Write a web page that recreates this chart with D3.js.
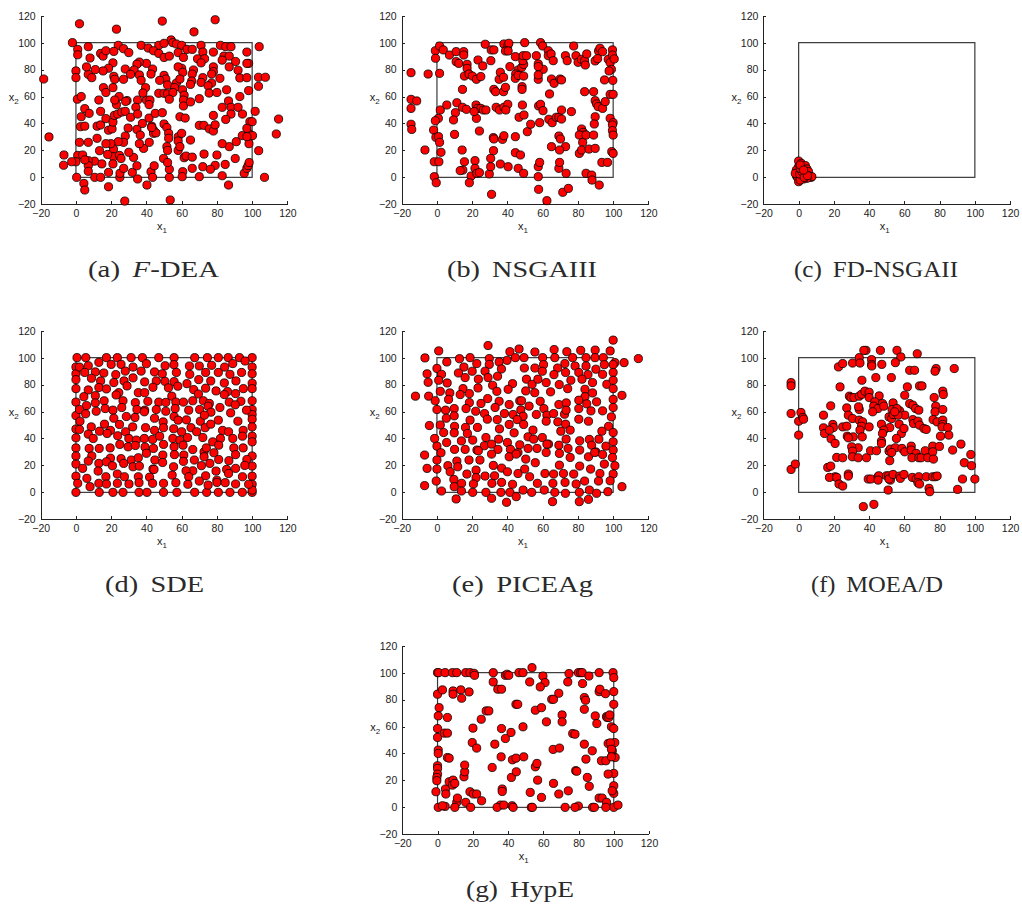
<!DOCTYPE html>
<html>
<head>
<meta charset="utf-8">
<script src="https://cdn.jsdelivr.net/npm/d3@7"></script>
<style>
  html, body { margin: 0; padding: 0; background: #fff; }
  svg { display: block; }
  .tick text { font-family: "Liberation Sans", Arial, sans-serif; font-size: 10.5px; fill: #222; }
  .axis path, .axis line { stroke: #222; stroke-width: 1; shape-rendering: crispEdges; }
  .lbl { font-family: "Liberation Sans", Arial, sans-serif; font-size: 11px; fill: #222; }
  .cap { font-family: "Liberation Serif", "Times New Roman", serif; font-size: 23px; fill: #2a2a2a; }
</style>
</head>
<body>
<svg id="fig" width="1022" height="916"></svg>
<script>
// Axis ticks shared by every panel
const xTicks = [-20, 0, 20, 40, 60, 80, 100, 120];
const yTicks = [-20, 0, 20, 40, 60, 80, 100, 120];

// Final populations [x1, x2] for each algorithm
const fdeaPoints = [
[2,114],[23,110],[49,116],[79,117],[67,108],[54,102],[55,100],[-2,100],[1,95],[7,97],[24,98],[27,95.5],[30,92.6],[37,98],[41,96],[47,98],[50,99.5],[57,99],[60,98],[63,95],[66,95],[71,98],[72,93],[82,98],[85,97],[88,97],[78,93],[97,93],[104,97],
[1,91],[8,88.6],[14,92],[15.4,90],[17,94],[21.5,93.5],[44,94],[47,92],[50,89],[53,90],[58,92.6],[61,89],[69,88],[73,88],[84,90],[87,90],[98,84.6],
[83,87],[90.6,86],[97,84.6],[92,79.5],[87,82],[78,82],[78,78.5],[71,85],[66.7,79.7],[66,76.7],[60,81],[58,82],[60.6,78],[43.5,80.4],[40,84.6],[36,85.6],[34.6,84],[33,79.7],[28,80.4],[21,85],[18.5,81],[15.4,79],[11,80],[7,76.5],[9,74],[0,79],[0,74],[6,82],[21.5,75],[22,72.8],[27,72.8],[31,76.5],[36,76],[37,72],[39.5,66.6],[42.6,76.7],[50,75.7],[51,73],[47.5,72],[57,70],[59,73],[65.7,71.5],[72,74],[77,70],[81.7,73.5],[77,76.7],[93,73.8],[97,74],[103.6,74.3],[107.5,74.3],[-18.3,73],
[15.6,66.6],[21,66.6],[17,63],[13,57.4],[24.5,60],[29,57],[23,54],[22,57.4],[35,57.4],[40,57.4],[42,57.4],[41.5,54],[38,62.6],[47,62.4],[50,62.4],[52,62],[52,68.6],[56,66.6],[55,63],[53,58],[60.5,65],[61.4,61],[61,57.4],[61,53],[65,56],[65,69],[71,70.5],[75,68],[75.6,62.6],[80,63],[85.5,65],[98,64.4],[103.6,67.6],[93,60],[86.6,56.7],[88,52],[83,52],[92,52],[94.5,47],[101.7,49],[98.7,41.3],[88,47],[85,43],[78,46],[70,38.6],[72.6,38.6],[75.7,36],[78,34.4],[79,39],[70,58.4],[0.8,58],[3,60],[5,51],[7.5,47.5],[3,45],[2.6,37.6],[5,38],[2,26],[7,26],[12,38],[14,38.9],[14,49],[17,43.6],[18.5,35],[20.5,36],[21,41],[21.8,46],[23.7,47],[26,48.5],[28.2,56.4],[28,49],[31,44.6],[29.6,36.6],[34,52],[35,47],[34.6,35.6],[37.7,40],[41.5,44],[43,38],[44,35],[45,47.5],[49,48],
[50,39.6],[51.6,37],[52.6,32.7],[52.6,29],[51.6,22.8],[52,20],[58,30],[58,27],[58,20],[59,22.8],[60,32.7],[65,27.7],[59,45],[62,44],[38.4,21.5],[41.6,26],[44,32.7],[45.4,33],[43,37],[36.5,31.4],[36,25],[28,30.7],[27,26],[24,26.5],[21.3,21],[19.8,25],[21.3,15.3],[24.7,16.3],[25.6,14],[18,17],[13.4,19.8],[12,29],[17,25],[21,10],[14.7,10],[10.5,12],[7,12.4],[7,8.7],[7,4.5],[1,16.3],[3.8,16.6],[0,11.6],[-2.4,11.6],[-6.8,16.6],[-7,9],[-15.3,30],[5,13],[4.5,-4.5],[5,-9.4],[0.4,0],[10.7,0],[14,0],[18.5,3.7],[18.5,-7],[24.9,0],[25,3],[27.1,6.7],[32,3.7],[35,-1.2],[34.6,8.6],[32.7,14.8],[30,18.6],[27.7,-17.6],[40.3,-5.7],[42.6,4.2],[44.4,8.6],[43.5,0],[53,0],[53,6],[53.5,-16.8],[49.7,14],[52,11],[60.6,4.2],[60.3,0.5],[61.4,14.6],[62.5,15.8],[66,15],[66,6.7],[72.7,17.3],[72,7.9],[70,0.5],[80,16.6],[79,8.9],[83,1.2],[76.3,6],[84.7,9.6],[86.6,-5.7],[87,22.8],[83,25],[90.4,14],[91,26.5],[94.4,31],[98,32.7],[100.2,31],[98.2,25],[95.5,3],[97,6.7],[97.7,8.7],[98.3,11],[103.7,19.8],[107,0],[113.7,32.2],[115,43.3],[97,36.4],[100,41.3],[97,30.2]
];

const nsga3Points = [
[-14.7,77.7],[-5,76.7],[-14.7,57.9],[-11.5,56.7],[-14.7,51.2],[-14.7,39.4],[-14.3,35.6],[-6.8,20.3],
[-0.9,94],[-0.8,88.4],[1.5,97.5],[3.6,94.6],[1.5,77.2],[1.9,50],[0.8,43.8],[-0.9,42],[-1.9,35.1],[-0.6,29.7],[0.9,30.2],[1.5,26],[2.3,18.6],[-1.5,11.6],[1.1,11.6],[-1.5,0.5],[-0.4,-4],
[7.1,90.8],[10.9,93.3],[10.9,85.9],[12.4,84.6],[15.2,93.3],[15.2,90.8],[17.1,83.9],[17.1,80.9],[23.3,87.1],[26,82.7],[27.4,98.8],[30.8,94.6],[32.3,94.6],[30.6,86.6],[38,99],[40.2,97.8],[40.8,99.5],[38.9,93.8],[40.4,93.8],[41.4,82.2],[44.5,89.6],[46.1,79.7],[48.1,81.7],[49.2,83.9],[48.7,86.6],[48.9,90.3],[50.8,90.3],[49.8,100],[56.4,90.3],[58.8,100],[60,97.5],[63.2,94],[63.2,90.3],[64.8,91.6],[66,86.6],[57.5,84.2],[58.6,80.4],[60.3,80.2],[57.5,82.2],[72.9,90.3],[73.9,86.6],[77.6,97.5],[78.9,90.3],[80.1,85.4],[82,87.6],[83.8,86.6],[84.2,83.4],[85,91.6],[91.7,93.8],[92.5,95.8],[94,93.3],[89.8,86.4],[91.2,88.1],[97.2,87.6],[98.3,85.1],[99.6,94.6],[99.6,90.8],[100.6,87.9],[99,80.2],[97.7,79],
[15.6,75.2],[18.2,76.7],[20.1,75.2],[22.4,72.8],[24.9,74.8],[35.3,72.8],[36,78],[37.8,74.3],[44.7,76.7],[44.5,73.5],[46.1,75.7],[49.2,75.2],[57.5,72.8],[57.5,76],[65,73],[66.5,69.8],[69.9,73],[70.7,72.3],[99.8,72],[95.1,72.3],[14.5,65.3],[32.3,65.3],[33.3,63.6],[37.8,63.6],[38.9,66.8],[48.3,67.3],[48.3,65.3],[63.9,61.9],[83.8,63.6],[88.9,63.6],[98.3,61.6],[100,61.6],
[5.6,53.7],[11.3,55.4],[10.5,48],[14.5,52],[16.7,50.5],[22.2,53.7],[23.1,51.2],[24.9,51.2],[26.3,50],[27.8,50],[22.4,43.8],[21.1,48.8],[9.4,42.6],[33.6,52],[35.5,50],[38,52],[40.2,54.2],[39.1,50],[48.5,53.7],[46.6,44.6],[49.4,46.3],[57.7,53],[58.8,54.2],[60.2,49.5],[63.5,43.1],[65.4,40.6],[67.7,44.6],[69.2,44.6],[70.7,43.3],[76.3,48.8],[70.7,50],[58.3,40.6],[89.8,56.9],[90.6,54.5],[91.5,52.5],[94,51.2],[95.5,56.2],[89.8,45],[89.3,39.6],[98.3,43.8],[100,40.6],[99.6,38.9],
[10,31.9],[14.3,20.3],[24.1,34.4],[32,29.5],[32.3,28.5],[37.2,28.2],[38,30.9],[44.5,30.2],[51.3,33.9],[53.2,39.4],[69.2,30.7],[70.1,28.5],[65,22.8],[73,22.8],[69.6,20.3],[82.1,35.9],[83,33.4],[83.6,31.4],[80.8,31.4],[82.7,26],[84.6,31.4],[88.9,31.4],[80.8,17.8],[82.1,20.3],[86.3,21],[89.8,21.5],[99.6,34.7],[100,31.4],[99.2,19.1],[100,17.8],
[15.6,11.6],[21.6,12.4],[21.6,6.7],[14.7,5.4],[13.2,5],[19.4,1],[22.6,3],[24.1,3.5],[29.7,2.5],[30.5,7.9],[30.5,14.1],[32.1,19.8],[36,9.9],[40.4,7.9],[44.5,18.3],[47.4,16.6],[46.1,6.7],[49.2,3],[57.5,7.9],[58.3,11.1],[57.5,0.5],[69.2,6.7],[69.6,11.1],[73.3,3],[93.6,11.1],[96.8,11.1],[84.6,3],[87.8,1.7],[88,-2],
[18.4,-4],[31,-12.6],[57.7,-8.9],[62.4,-17.3],[71.4,-11.1],[74.6,-8.2],[92.1,-5.7]
];

const fdnsga2Points = [
[0,12.1],[0,7.9],[0,4.2],[-1.3,1.2],[-0.6,0],[0,-3.2],[1.5,10.4],[2.4,7.9],[3.2,5.4],[2.8,3],[1.9,0.5],[3.8,8.7],[4.7,6.2],[4.3,3],[5.6,4.2],[6,1],[7,0],[7.5,0.5],[4.7,-0.7],[2.8,-1.2],[0.9,-2],[-1.3,5.4],[-1.9,3],[0.6,2.5],[1.9,4.2],[0.9,6.7],[3.2,0],[5,1.3],[0.9,9.2],[2.8,5.4]
];

const sdePoints = [
[0.6,100],[5.6,100],[17.3,100],[23.5,100],[31.3,100],[37.7,100],[47,100],[55.7,100],[67.4,100],[74.6,100],[80.8,100],[86.4,100],[92.8,100],[100,100],
[0,0],[13.2,0],[21,0],[26.7,0],[35.8,0],[40.3,0],[49.7,0],[57.3,0],[67.4,0],[74.2,0],[80.8,0],[87.4,0],[94.4,0],[100,0],
[0,93],[0,88],[0,83.7],[0,77],[0,67],[0,57],[0,47],[0,40.5],[0,33],[0,27],[0,21],[0,12],
[100,93],[100,88],[100,81],[100,77],[100,68],[100,61.5],[100,57.8],[100,54.3],[100,48.6],[100,41.7],[100,37.5],[100,27],[100,19.5],[100,12],[100,6],[100,1.7],
[2,93],[7,94],[13,96.5],[20,95],[25.6,95],[32.4,93],[40,95.5],[50.6,94],[55.6,94.8],[64.4,93.8],[70,93.8],[77,94.3],[84.4,93],[89,95.6],[96,97.5],
[5,89],[11,89.4],[15.8,88.6],[22.6,87.4],[28,90],[37,90],[44.6,89.4],[49,88],[57,89],[64.6,87.6],[73.6,89],[80.8,89],[87.4,87.6],[94,89],
[8.8,84.7],[14,82.7],[21.5,81.5],[27.3,82.7],[32.4,85],[39,82],[45.6,82.7],[50.5,82.4],[55.7,82.2],[63,80.7],[69.7,83.7],[76.5,82.7],[84.2,81.2],[90.8,82.7],
[7,76],[13,77.8],[17.3,76.8],[24.3,74],[29,79],[35.4,74],[39,74],[43.7,78],[52.5,77.6],[57.8,78.8],[66.8,76.3],[73.6,77.3],[79.5,75.3],[86,74.8],[90.6,73.3],[95,77],
[4.5,71],[11,71.8],[16,68],[22.8,72.3],[26.7,68],[33.7,66.6],[40.8,67.6],[47,67],[51,66.8],[54.4,71.4],[56.7,67],[61,67],[66.3,68],[69.5,73],[72.3,68],[75.7,66],[84.2,72.6],[87,67],[93.6,67.6],
[6,64.4],[11,66.4],[16.6,62.2],[21,61],[26,63],[34.6,61.5],[39,61],[45.6,61.5],[51,60.2],[56.3,62.2],[64,61],[70.2,61.5],[75,64],[76.6,59.5],[81.7,63],[90.4,65],[96.8,61],
[2,61.5],[2.3,52.8],[5.5,58.3],[11.5,60.2],[21.5,55],[28.6,56.3],[33.5,55.6],[38.8,59.8],[44.6,55],[49.5,52.3],[49.7,48],[55.7,56.3],[58,53.6],[62.7,53.8],[70.6,52.8],[72.9,57.3],[80.8,53.6],[87.8,59],[91.9,52.8],
[8.7,48.6],[16.2,50.6],[19.6,46],[24.7,50.4],[28.2,45],[32.2,48.6],[39.5,48],[44.6,46],[55.5,47.2],[60,45],[65.3,48],[73.3,48],[76.5,50.6],[83.2,46],[86.6,45],[94.9,46],
[2,46.7],[7,43.2],[9.8,40],[13.4,45.4],[17.7,43.7],[23.7,42],[24.9,35.6],[30,40],[34.3,38.8],[38.8,40],[43.5,39.3],[47.5,41.7],[55,40],[59,38.8],[63.3,40.7],[68.5,45],[72,40.7],[77.6,37.5],[82,40],[89,40],[94.5,41.7],
[7.5,32.6],[13.2,32.6],[19.4,33],[29.6,33.8],[33.7,34.8],[39.2,33.6],[40,29],[44,32.6],[49.7,35.6],[55.7,33.8],[60.8,35],[66.3,31.8],[72.7,30],[74,33],[78.3,29.4],[81,35],[89.6,33],[94.9,33],
[9,27],[13,21.5],[19.6,25.4],[25.6,25],[31.4,24],[35.4,25.7],[44.8,24],[49.3,27.7],[55.9,28],[61.2,27.7],[67.2,24],[72.7,26.4],[81,24.4],[86.8,23.5],[90.6,28],[97,24.4],
[3.8,17.8],[7,23.2],[17.3,22.7],[20.7,19.7],[27.1,21.5],[32.4,19],[36,19.5],[43.7,17.3],[49.2,22.2],[55.4,19],[61,23],[66.3,16],[71.2,19.8],[76,21.5],[79.5,15.8],[85.5,17],[90.6,17.8],[95.8,20],
[6.2,10.4],[12.6,15.8],[17,11.6],[23.5,13.6],[27.5,11.6],[35.4,11.6],[41.8,11.3],[44.3,17],[54.6,12.8],[62.5,16],[64,11.6],[73.6,12.3],[80,9],[86.6,14],[94.5,11.6],
[1,6.7],[8,4.2],[13,6.7],[17.3,6.2],[23.5,6.7],[30.1,6.2],[35.8,7.2],[43.5,6.7],[49.7,6.7],[56.7,7.2],[63.5,6],[70,8.4],[75,5.4],[80,7.4],[84.7,7.2],[90.6,6.2],[98,6]
];

const piceagPoints = [
[-12.2,71.4],[114.3,99.3],[100,113],[101,96.3],[106.2,96.3],[98.3,105],[105,72],[105,4.2],[-6.8,99.8],[-5.6,88],[-5,81.7],[-4.7,71.4],[-4.3,49.6],[-7,27.7],[-5.6,17.8],[-7,5],[1,105],[29,109],[41.4,104.4],[46.6,106.4],[55.6,104.2],[66.5,106],[73.7,104.4],[81.6,105.4],[89.8,105.6],
[12.8,99.2],[18.8,100],[29.7,99.3],[39.8,98],[44.5,100],[49.4,100],[60,100],[66.9,100],[77,100],[84.6,100],[89.7,100],[94.4,100],
[5.6,96.8],[22.6,95.6],[29.7,95],[35.3,96.8],[60.5,94.8],[72.6,95.6],[84.6,93.8],[95,94.8],[100,94.8],[15.3,93],[0,92],[49.6,92.3],[55.6,92.3],[68.5,92.3],[78.4,93.8],[90.2,91.4],
[2.6,87.6],[12.2,88.6],[20,89.9],[27.3,89.9],[34.4,86.2],[36.6,91.6],[59.8,89.9],[66.4,87.4],[73,89],[80.5,89],[85.7,87.4],[94,87.6],[100,89],
[5.8,81.2],[16,85.2],[23.5,84],[29,85.2],[31.6,79.5],[42.9,80.7],[50.8,84],[54,80.2],[57.3,84],[62,81.5],[69.4,80],[76,83.2],[82.3,84],[88.3,81.5],[96.4,80.2],[100,83.2],[1,83.2],
[1.9,75],[7.3,73.8],[14.8,77],[18.4,73.3],[23.3,77.5],[34,75],[40.4,76.5],[50.4,75.3],[55.5,74],[64.5,74.6],[74.2,77],[84,76.5],[88.3,73.8],[100,77],[13.2,72.6],[84,71],[47,68],
[-1,68],[6.6,69],[18.4,66.6],[25,66],[28.8,69.6],[35.3,67.6],[41,65.2],[48,68],[52.3,64],[58.6,67.6],[69.2,65.2],[73.4,66.4],[80.5,68.4],[85,65.7],[90.6,67.2],[100,69],[100,63],
[0,61.5],[4.9,61],[9.8,62.2],[16.5,62.2],[22,60.2],[27,58.5],[33,63],[38.3,58.5],[43.2,57.8],[47.6,61.2],[48.9,56.5],[56.4,57.8],[60.7,62.2],[62.4,57.3],[66.2,58.5],[72.4,58],[73.3,61],[80.5,62.2],[87.4,60.5],[94,60.5],[99,56],
[5.3,55],[9.8,56.8],[18.8,53.6],[28.6,54.3],[34.2,54],[45.5,54],[49.2,50.4],[54.5,46.2],[62,52.8],[68.6,52.3],[73,50.6],[75.6,46.2],[70.3,45.4],[80.5,54.3],[86,52.8],[97.4,49],[93.6,45.4],[1.9,50],[10,49],[16.2,48.2],[17.3,43.7],[23,48.2],[35.5,47.1],[41,50.4],
[-1.3,40],[3.8,44.4],[9.8,44.2],[13.9,38.2],[20.3,38.8],[27.8,40.7],[35,39.5],[40,37],[43.8,44.2],[51.7,41.2],[54.9,39.5],[59.8,40.7],[63.3,35.8],[73.3,39.5],[81,38.3],[86.5,39.3],[91.9,39.5],[100,44.4],[100,37.5],
[0,34.3],[5.5,37],[10,31.9],[16,31.9],[22.7,31.4],[26.9,34.6],[31,35.8],[34.6,31.9],[41.7,31.9],[46,29.6],[47,35.3],[51.7,32.6],[56.8,32.6],[62.4,35.8],[69.2,35],[74.4,32.6],[81,31.4],[87.8,35],[90.2,30],[95.9,34.3],[100,31.4],
[2.3,29.4],[6.2,19.8],[11.3,23.2],[18.2,24],[23.5,30.9],[24.4,24],[31,28.4],[32,20],[36.7,18],[41,26.4],[45,28.4],[50.4,24.7],[55.8,22],[62,29.6],[69.5,28.9],[69.5,20.2],[75.6,25.9],[81,19.5],[86,26.4],[89.5,29.6],[94,28.1],[95,21],[99.6,25.9],[101,19.8],[0,24],[0,17.3],
[7.5,15.3],[11.8,19],[17,13.6],[22.2,16.5],[27.3,12.1],[32.7,12.3],[40,15.3],[46,14],[49.8,17.3],[52.6,11.6],[61.3,14],[66.2,13.6],[71.8,14],[77.6,13.6],[87.2,17.3],[92.5,14],[100,13.6],[9.6,9.6],[22.2,10.9],
[-0.4,8.4],[9.8,4.2],[14,6.7],[20.7,6.2],[31.2,6.7],[36.7,7.4],[42.9,6],[48.9,1.7],[57,6.7],[65.8,6.7],[72.7,7.4],[79,6.2],[83.8,8.4],[91.7,8.4],[98.3,8.6],
[2.6,1],[13.9,1],[20.3,0],[27.8,0],[36.3,0],[41.4,0],[53.8,0],[60.9,1.7],[66.9,0],[72.9,-0.7],[80.8,0],[86.5,1.7],[90.6,-0.7],[97,0.5],
[10.9,-4.9],[31,-4.4],[39.5,-7.4],[45,-3.2],[65.6,-6.9],[80.8,-6.9],[86,-5.2]
];

const moeadPoints = [
[-4.3,81.5],[-4.3,79],[-4.3,58.5],[-4.3,17],[-1.9,21],[0,42.5],[0,52.8],[1.3,59.3],[2.4,55.6],[2.8,54.3],
[22.6,93.1],[25,95.6],[30.6,96],[34.4,100],[38.2,105.4],[37,105.4],[34.8,96],[41.4,98.5],[41.4,95],[41.5,93.8],[47.2,95],[46.4,105.4],[55.8,105.4],[58,100.5],[54.9,96.3],[67.3,102.9],[63,90.6],[65.8,90.6],[52.6,85.2],[43.8,85.2],[35.9,83.2],[78,91.9],[77.4,89.9],[88.3,91.9],
[23.5,78.3],[28.8,71.4],[29.7,70.4],[31.4,70.4],[34.4,71.4],[35.7,72.8],[37.6,75.1],[40,74.3],[40,70.4],[45.7,71.6],[61.7,78.3],[60.2,72.1],[68.6,79],[70,79],[76.9,70.4],[81.8,75.1],[82.1,72.6],[43.2,67.2],[47.6,65.9],[42.6,64],[45,62.2],[48.3,64],[42,59.8],[53.6,66.4],[53,61.5],[57.3,60.5],[60.2,57.3],[63,65.9],[64.8,64.7],[66.4,62.2],[68.2,61],[77.8,64],[77.4,59.8],[81.8,61.5],[27.3,62.7],[34.4,61.5],[34,63.5],[18.2,64.2],
[14.1,57.3],[14.1,47.9],[14.7,43.7],[19.4,50.4],[19.7,48.1],[17.5,46.2],[18.4,39.8],[20.7,36.3],[25,48.6],[27.3,49.1],[28.2,57.3],[30.6,54.8],[31,41.2],[27.6,41.7],[28.2,40.5],[34.4,53.6],[36.3,52.3],[35.7,49.1],[34.8,46.2],[36.1,41.2],[40,48.6],[47,50.6],[51.3,56],[52.8,54.8],[53.6,57.8],[56.4,57.3],[55.8,62.2],[54.5,59.8],[51.7,48.1],[48.3,46.2],[47.6,43.7],[57,50.6],[58.3,43.7],[59.8,47.4],[64.8,54],[65.2,51.1],[67.7,52.8],[68.6,49.9],[71.1,47.4],[72.4,46.7],[76.3,54],[78.6,52.3],[81.8,53.6],[81.8,50.4],[81.4,48.6],[80.5,41.7],[84.6,48.1],[85.2,42.5],[55.5,40],
[33.8,33.1],[30.1,33.8],[30.6,30.6],[30.5,26.4],[33.8,25.7],[38.5,25.7],[21.6,25.9],[25,25.7],[40.8,30.9],[44.2,30.9],[47,38],[47,36.3],[51.3,30.6],[52.1,32.1],[54.9,33.1],[52.8,29.6],[58.6,32.6],[60.2,30.1],[63.9,34.3],[63.9,31.4],[66.7,28.9],[64.3,25.7],[68.2,25.7],[69.5,25.7],[71.8,30.9],[73.3,25.7],[76.1,34.3],[76.1,30.1],[76.5,24.7],[79.9,34.1],[87.4,31.4],[92.1,35.8],[94,22],[97.7,28.1],[98.1,19.8],[51.7,23.5],[16.5,18.5],[18.2,19.5],[20.7,11.6],
[17.5,11.1],[21.6,11.1],[22.9,6.2],[25,4.7],[28.2,13.6],[28.2,12.1],[39.5,9.9],[41,9.9],[45.1,11.6],[45.5,12.3],[45.1,9.1],[49.8,12.3],[51.1,12.3],[52.1,9.1],[51.3,9.9],[53.6,13.3],[57.3,12.1],[57.7,10.4],[59.8,13.3],[64.5,11.1],[66.7,9.9],[68.2,11.6],[67.7,7.2],[68.6,6.2],[72.4,11.6],[76.1,11.6],[77.6,11.6],[78.6,12.1],[74,3],[74.4,0.5],[50.8,1.7],[90.2,2.2],[93,9.9],[100,9.9],
[36.7,-10.6],[42.7,-8.9]
];

const hypePoints = [
[0,100],[0.6,100],[4.3,100],[8.5,100],[10.9,100],[16,100],[18.4,100],[20.7,99.5],[31.6,100],[46.2,100],[48.5,100],[59.8,97.5],[74.6,99.3],[79.9,100],[81.2,100],[82.1,100],[85.9,97.5],[91.7,100],[99.6,100],[21,98],[38.5,98],[39.5,98.8],[40.4,98],[53.6,103.7],
[0,84],[0.9,74],[0.4,67.9],[0,58.5],[0,51.9],[0.4,42.5],[0.4,40],[0,30.9],[0,28.9],[0,24.7],[-0.4,22.2],[-0.4,19.8],[-0.9,11.6],[0.4,0],
[100,96.3],[100,85.9],[100,76.5],[98.7,59.8],[100,58.5],[100.6,48.1],[99.2,42],[99.2,38.3],[100.8,37],[100,25.2],[100,16],[100,10.4],[100,0],[102.4,1.7],
[2.8,87.2],[8.8,86.4],[8.8,84],[13.2,87.2],[13.7,81],[17.9,85.7],[5.6,66.7],[3.8,55.1],[5.6,55.1],[5.6,37],[6.6,36.5],[4.5,13.6],[4.7,9.9],[4.3,0.7],[2.8,1.2],[6.6,19],[8.8,20.2],[8.5,16.5],[9.8,17.8],[10.9,3.7],[11.3,6.9],[9.8,0],[15,22.7],[15.4,26.4],[15.4,31.4],[16,3.7],[18.8,0],[18.4,11.6],[20.3,9.9],[22.2,9.9],[25,4.9],[20.1,58.8],[19.7,48.1],[22.2,44],[24.8,65.4],[27.6,71.6],[29.1,71.6],[31.6,93.1],[31,29.6],[32.5,46.9],[34.2,87.7],[36.3,87.7],[36.3,58.5],[36.1,37.5],[36.7,13.6],[36.7,11.8],[35.7,1.7],[33.8,0],[37.6,1.7],[38.5,51.1],[41.7,55.6],[41.9,22.2],[42.5,35.3],[42.3,1.2],[42.9,0],[44.5,76.5],[45.5,76.5],[44.5,36.5],[44.7,26.4],[48.5,59.8],[48.9,37.5],[52.3,93.1],[52.6,11.1],[53.2,0],[53.8,0],[55.5,72.1],[55.5,30.1],[56.4,32.6],[56.8,20.2],[59,74],[59,7.4],[61,92.6],[58.3,89.4],[61.8,63.5],[64.8,80.2],[65.8,80.2],[65.6,43],[65.8,17.8],[68.8,84.7],[69.2,44],[68.8,9.9],[70.7,68.6],[70.7,63.5],[72.4,0],[73.9,93.1],[74.2,12.3],[76.7,54.8],[78,54.3],[78.4,27.2],[79,26.8],[79.9,1],[78,0],[82.3,91.9],[83.3,81.5],[84,79.5],[83.3,72.8],[83.3,46.9],[84.2,35.8],[85,22.2],[86.1,15.6],[87.8,42],[88,0],[89,0],[89.5,67.9],[90.4,62.2],[91.7,85.9],[92.1,87.7],[91.7,6.9],[93.4,6.9],[93,34.6],[95.5,34.6],[95.3,84.4],[95.9,67.4],[96.2,66.7],[97.2,66.7],[97.7,68.6],[95.9,3.7],[95.5,0],[96.8,24.7],[96.8,47.4],[98.1,47.9],[98.7,43.2],[98.7,37.5],[99.1,12.3]
];

// Panel captions: tag, optional italic leading letter, remainder of the name
const captions = [
  { tag: "(a)", lead: "F", rest: "-DEA" },
  { tag: "(b)", lead: "", rest: "NSGAIII" },
  { tag: "(c)", lead: "", rest: "FD-NSGAII" },
  { tag: "(d)", lead: "", rest: "SDE" },
  { tag: "(e)", lead: "", rest: "PICEAg" },
  { tag: "(f)", lead: "", rest: "MOEA/D" },
  { tag: "(g)", lead: "", rest: "HypE" }
];

const panelData = [fdeaPoints, nsga3Points, fdnsga2Points, sdePoints, piceagPoints, moeadPoints, hypePoints];

// Layout of the 3-row grid (axes origin, caption centre / baseline / width)
const axW = 246.7, axH = 188.6;
const panelPos = [
  { left: 40.7,  top: 15.7,  capX: 153.5, capY: 276.7, capW: 131 },
  { left: 401.7, top: 15.7,  capX: 522,   capY: 276.7, capW: 150 },
  { left: 763.4, top: 15.7,  capX: 876,   capY: 276.7, capW: 164 },
  { left: 40.7,  top: 330.7, capX: 154.5, capY: 591.7, capW: 99 },
  { left: 401.7, top: 330.7, capX: 522.5, capY: 591.7, capW: 141 },
  { left: 763.4, top: 330.7, capX: 877,   capY: 591.7, capW: 132 },
  { left: 402.3, top: 645.7, capX: 520,   capY: 896.7, capW: 108 }
];

const fmt = v => (v < 0 ? "\u2212" + Math.abs(v) : String(v));
const svg = d3.select("#fig");

panelData.forEach((pts, i) => {
  const pos = panelPos[i];
  const x = d3.scaleLinear().domain([-20, 120]).range([0, axW]);
  const y = d3.scaleLinear().domain([-20, 120]).range([axH, 0]);
  const g = svg.append("g").attr("transform", `translate(${pos.left},${pos.top})`);

  // feasible region box [0,100] x [0,100]
  g.append("rect")
    .attr("x", x(0)).attr("y", y(100))
    .attr("width", x(100) - x(0)).attr("height", y(0) - y(100))
    .attr("fill", "none").attr("stroke", "#3a3a3a").attr("stroke-width", 1.2);

  g.append("g").attr("class", "axis")
    .attr("transform", `translate(0,${axH})`)
    .call(d3.axisBottom(x).tickValues(xTicks).tickFormat(fmt).tickSizeInner(-3).tickSizeOuter(0).tickPadding(5));
  g.append("g").attr("class", "axis")
    .call(d3.axisLeft(y).tickValues(yTicks).tickFormat(fmt).tickSizeInner(-3).tickSizeOuter(0).tickPadding(5));

  // population
  g.append("g").selectAll("circle").data(pts).join("circle")
    .attr("cx", d => x(d[0])).attr("cy", d => y(d[1]))
    .attr("r", 4.1)
    .attr("fill", "#ff0000").attr("stroke", "#000").attr("stroke-width", 0.8);

  // axis labels x1, x2
  const xl = g.append("text").attr("class", "lbl")
    .attr("x", axW / 2 - 2).attr("y", axH + 26).attr("text-anchor", "middle");
  xl.append("tspan").text("x");
  xl.append("tspan").attr("dy", 3).attr("font-size", "8px").text("1");
  const yl = g.append("text").attr("class", "lbl")
    .attr("x", -32).attr("y", 85);
  yl.append("tspan").text("x");
  yl.append("tspan").attr("dy", 3).attr("font-size", "8px").text("2");

  // caption
  const c = captions[i];
  const t = svg.append("text").attr("class", "cap")
    .attr("x", pos.capX).attr("y", pos.capY).attr("text-anchor", "middle")
    .attr("textLength", pos.capW).attr("lengthAdjust", "spacingAndGlyphs");
  t.append("tspan").text(c.tag);
  if (c.lead) {
    t.append("tspan").attr("dx", 10).attr("font-style", "italic").text(c.lead);
    t.append("tspan").text(c.rest);
  } else {
    t.append("tspan").attr("dx", 10).text(c.rest);
  }
});
</script>
</body>
</html>
